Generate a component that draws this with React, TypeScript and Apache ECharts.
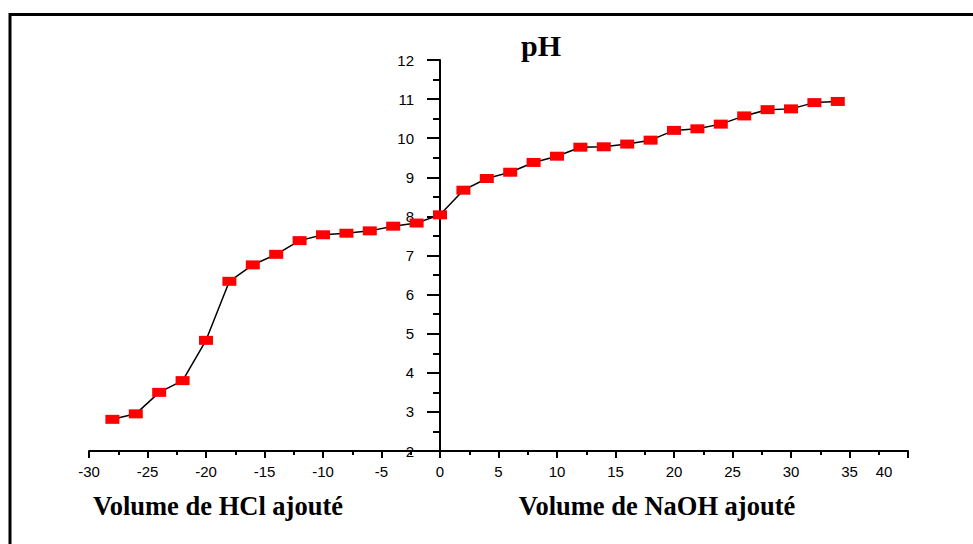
import React, { useEffect, useRef } from "react";
import * as echarts from "echarts";

const hclVolumes = [-28, -26, -24, -22, -20, -18, -16, -14, -12, -10, -8, -6, -4, -2, 0];
const hclPH = [2.81, 2.95, 3.5, 3.8, 4.83, 6.34, 6.76, 7.03, 7.38, 7.53, 7.57, 7.63, 7.75, 7.83, 8.04];
const naohVolumes = [2, 4, 6, 8, 10, 12, 14, 16, 18, 20, 22, 24, 26, 28, 30, 32, 34];
const naohPH = [8.67, 8.97, 9.13, 9.38, 9.54, 9.77, 9.78, 9.85, 9.95, 10.2, 10.24, 10.36, 10.57, 10.73, 10.75, 10.91, 10.94];

const titleText = "pH";
const leftAxisLabel = "Volume de HCl ajouté";
const rightAxisLabel = "Volume de NaOH ajouté";

export default function App() {
  const ref = useRef<HTMLDivElement>(null);
  useEffect(() => {
    if (!ref.current) return;
    const chart = echarts.init(ref.current, undefined, { renderer: "svg" });
    const data: number[][] = [];
    hclVolumes.forEach((v, i) => data.push([v, hclPH[i]]));
    naohVolumes.forEach((v, i) => data.push([v, naohPH[i]]));
    chart.setOption({
      animation: false,
      backgroundColor: "#ffffff",
      grid: { left: 89, right: 65, top: 60, bottom: 93, containLabel: false },
      xAxis: {
        type: "value",
        min: -30,
        max: 40,
        interval: 5,
        splitLine: { show: false },
        axisLine: { show: true, onZero: false, lineStyle: { color: "#000", width: 2 } },
        axisTick: { show: true, length: 7, lineStyle: { color: "#000", width: 2 } },
        minorTick: { show: true, splitNumber: 2, length: 4, lineStyle: { color: "#000", width: 2 } },
        axisLabel: {
          color: "#000",
          fontFamily: "Liberation Sans, Arial, sans-serif",
          fontSize: 15,
          margin: 13,
          formatter: (v: number) => (v === 40 ? "{s|40}" : String(v)),
          rich: { s: { padding: [0, 48, 0, 0], fontSize: 15, color: "#000", fontFamily: "Liberation Sans, Arial, sans-serif" } },
        },
      },
      yAxis: {
        type: "value",
        min: 2,
        max: 12,
        interval: 1,
        position: "left",
        offset: -351,
        splitLine: { show: false },
        axisLine: { show: true, onZero: false, lineStyle: { color: "#000", width: 2 } },
        axisTick: { show: true, length: 13, lineStyle: { color: "#000", width: 2 } },
        minorTick: { show: true, splitNumber: 2, length: 7, lineStyle: { color: "#000", width: 2 } },
        axisLabel: {
          color: "#000",
          fontFamily: "Liberation Sans, Arial, sans-serif",
          fontSize: 15,
          margin: 26,
        },
      },
      series: [
        {
          type: "line",
          data,
          symbol: "rect",
          symbolSize: [14, 9],
          itemStyle: { color: "#ff0000" },
          lineStyle: { color: "#000", width: 1.5 },
          z: 3,
        },
      ],
      graphic: [
        {
          type: "rect",
          shape: { x: 10, y: 14.5, width: 1000, height: 600 },
          style: { fill: "none", stroke: "#000", lineWidth: 3 },
          silent: true,
        },
        {
          type: "text",
          x: 541,
          y: 45,
          style: {
            text: titleText,
            fontFamily: "Liberation Serif, Times New Roman, serif",
            fontWeight: "bold",
            fontSize: 30,
            fill: "#000",
            align: "center",
            verticalAlign: "middle",
          },
        },
        {
          type: "text",
          x: 218,
          y: 506,
          style: {
            text: leftAxisLabel,
            fontFamily: "Liberation Serif, Times New Roman, serif",
            fontWeight: "bold",
            fontSize: 26.5,
            fill: "#000",
            align: "center",
            verticalAlign: "middle",
          },
        },
        {
          type: "text",
          x: 657,
          y: 506,
          style: {
            text: rightAxisLabel,
            fontFamily: "Liberation Serif, Times New Roman, serif",
            fontWeight: "bold",
            fontSize: 26.5,
            fill: "#000",
            align: "center",
            verticalAlign: "middle",
          },
        },
      ],
    });
    return () => chart.dispose();
  }, []);
  return (
    <div
      ref={ref}
      style={{ position: "absolute", left: 0, top: 0, width: 973, height: 544 }}
    />
  );
}
